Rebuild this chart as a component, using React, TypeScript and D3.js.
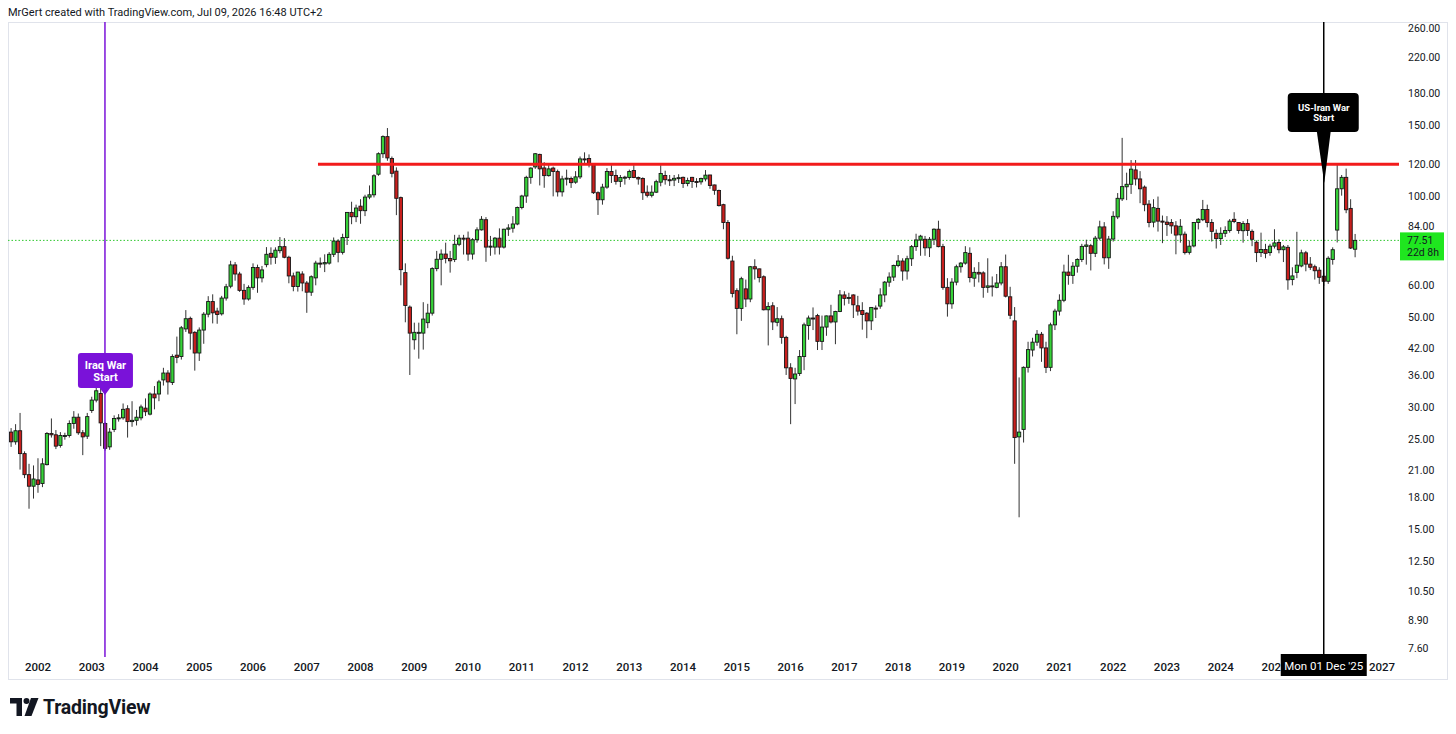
import React from 'react'
import * as d3 from 'd3'

// monthly bars: [open, high, low, close]
type Bar = [number, number, number, number]

const firstBar = { year: 2001, month: 7 }

const bars2001: Bar[] = [
    [26.0, 26.6, 23.9, 24.6], [24.6, 27.2, 24.2, 26.2], [26.2, 29.0, 21.0, 23.0],
    [23.0, 23.3, 20.0, 20.4], [20.4, 21.7, 16.8, 19.1], [19.1, 21.5, 17.8, 19.9],
]
const bars2002: Bar[] = [
    [19.8, 22.4, 18.4, 19.3], [19.4, 22.4, 19.0, 21.7], [21.6, 26.0, 21.5, 25.8],
    [25.8, 28.1, 25.2, 25.6], [25.6, 26.3, 23.6, 24.0], [24.1, 26.0, 23.8, 25.5],
    [25.4, 25.9, 24.9, 25.5], [25.5, 27.8, 25.2, 27.3], [27.3, 29.3, 26.5, 28.3],
    [28.3, 28.9, 25.6, 25.9], [25.9, 26.3, 22.8, 25.3], [25.4, 29.0, 25.0, 28.4],
]
const bars2003: Bar[] = [
    [29.4, 31.8, 29.0, 31.2], [31.2, 33.8, 30.8, 32.9], [32.4, 33.5, 24.0, 27.4],
    [27.3, 27.5, 23.4, 23.7], [23.9, 26.6, 23.5, 26.0], [26.4, 28.6, 26.0, 28.1],
    [28.1, 28.8, 27.6, 28.2], [28.2, 30.6, 27.9, 29.6], [29.7, 30.3, 25.2, 27.6],
    [27.6, 31.0, 26.8, 27.8], [27.8, 29.5, 27.0, 28.3], [28.2, 30.4, 27.8, 30.0],
]
const bars2004: Bar[] = [
    [29.8, 31.5, 28.5, 29.2], [28.8, 32.6, 28.6, 32.3], [32.3, 33.8, 29.6, 31.6],
    [32.3, 35.0, 31.0, 34.6], [35.0, 37.5, 33.9, 36.4], [36.4, 37.0, 32.2, 34.6],
    [34.5, 40.5, 34.0, 40.0], [40.3, 44.8, 38.5, 39.8], [40.0, 47.6, 39.3, 47.1],
    [46.8, 52.1, 46.0, 49.6], [49.7, 50.2, 41.6, 45.7], [45.9, 46.2, 36.9, 40.8],
]
const bars2005: Bar[] = [
    [40.8, 47.2, 39.0, 46.5], [46.5, 51.5, 43.0, 50.9], [50.9, 56.4, 50.0, 54.7],
    [54.7, 57.0, 48.3, 51.3], [51.8, 52.8, 48.2, 50.8], [51.0, 56.5, 50.5, 55.8],
    [55.8, 60.5, 55.0, 59.5], [59.7, 69.0, 59.0, 67.4], [67.4, 68.5, 61.6, 64.0],
    [64.0, 64.8, 57.8, 58.3], [58.3, 60.5, 53.7, 55.5], [55.5, 60.0, 55.0, 59.3],
]
const bars2006: Bar[] = [
    [59.3, 68.0, 58.5, 66.4], [66.4, 67.5, 57.5, 62.6], [62.6, 67.0, 61.0, 65.5],
    [67.5, 74.6, 66.5, 71.6], [72.0, 74.5, 67.5, 70.4], [70.4, 74.5, 67.8, 73.3],
    [73.1, 79.0, 72.0, 74.8], [74.8, 78.5, 70.0, 70.4], [70.4, 71.0, 60.7, 63.3],
    [63.3, 64.5, 58.0, 59.6], [59.6, 64.8, 57.9, 64.7], [64.0, 65.0, 58.0, 60.8],
]
const bars2007: Bar[] = [
    [60.8, 61.5, 51.3, 57.7], [57.7, 63.5, 56.5, 63.0], [62.6, 69.0, 60.0, 68.1],
    [68.1, 70.3, 66.3, 67.8], [67.8, 71.6, 64.7, 68.3], [68.1, 72.5, 67.5, 71.6],
    [71.6, 78.8, 70.5, 77.2], [77.2, 78.0, 68.4, 72.4], [72.4, 80.5, 71.5, 78.8],
    [78.8, 91.0, 75.5, 90.9], [90.9, 96.6, 85.0, 88.7], [88.7, 95.0, 86.0, 93.2],
]
const bars2008: Bar[] = [
    [94.2, 98.0, 85.2, 91.8], [91.8, 100.5, 89.0, 99.2], [99.2, 106.0, 98.0, 100.5],
    [100.5, 113.0, 99.0, 112.0], [113.0, 128.0, 112.0, 127.0], [127.0, 141.0, 124.0, 140.0],
    [140.0, 147.0, 122.0, 124.0], [123.6, 125.0, 111.0, 113.6], [115.0, 117.5, 89.5, 98.5],
    [98.9, 99.5, 60.0, 65.6], [64.5, 68.0, 48.6, 53.5], [53.0, 53.5, 36.0, 45.7],
]
const bars2009: Bar[] = [
    [44.0, 48.5, 41.6, 45.9], [45.7, 48.5, 39.5, 45.9], [45.7, 54.5, 41.6, 49.5],
    [48.5, 54.0, 47.0, 51.2], [51.2, 66.5, 50.5, 66.0], [66.0, 73.0, 65.0, 69.6],
    [69.6, 73.6, 60.0, 71.7], [71.7, 76.5, 68.0, 69.9], [69.9, 73.0, 64.5, 69.0],
    [69.5, 80.0, 68.5, 75.8], [75.8, 80.0, 75.0, 78.5], [78.5, 80.0, 71.5, 78.2],
]
const bars2010: Bar[] = [
    [78.5, 81.5, 69.0, 71.7], [71.7, 78.5, 69.5, 77.8], [77.8, 83.5, 76.5, 82.3],
    [82.3, 89.0, 82.0, 87.4], [87.2, 88.5, 68.6, 74.6], [74.6, 79.5, 71.0, 75.0],
    [74.6, 79.0, 71.5, 78.5], [78.5, 83.0, 71.5, 74.6], [74.6, 82.8, 74.0, 82.6],
    [82.6, 85.0, 79.5, 83.2], [83.1, 89.0, 81.0, 85.1], [85.1, 94.0, 84.5, 93.5],
]
const bars2011: Bar[] = [
    [93.5, 100.5, 92.5, 99.8], [99.8, 112.0, 96.0, 111.0], [111.0, 117.5, 107.0, 117.0],
    [117.8, 127.5, 116.5, 127.0], [126.5, 127.0, 106.0, 116.5], [117.1, 121.0, 104.6, 112.1],
    [112.1, 119.0, 111.5, 116.5], [117.0, 118.0, 99.6, 114.8], [114.7, 116.0, 99.5, 102.2],
    [102.2, 112.0, 99.5, 110.0], [110.0, 116.0, 106.0, 110.5], [110.3, 111.5, 104.5, 107.7],
]
const bars2012: Bar[] = [
    [108.0, 115.0, 107.0, 111.3], [111.3, 125.0, 110.0, 123.3], [123.3, 128.0, 120.5, 122.9],
    [123.6, 126.5, 117.5, 119.6], [119.6, 120.0, 101.0, 101.7], [101.7, 102.5, 89.6, 97.7],
    [97.7, 107.0, 95.0, 105.0], [105.0, 117.0, 104.0, 114.8], [114.8, 119.0, 107.5, 112.2],
    [112.2, 116.0, 106.5, 108.5], [108.5, 112.5, 105.0, 110.9], [111.0, 112.0, 106.5, 111.1],
]
const bars2013: Bar[] = [
    [110.9, 116.0, 109.5, 114.8], [115.4, 119.0, 110.5, 110.9], [110.9, 111.5, 106.5, 110.0],
    [110.3, 111.0, 97.6, 101.7], [102.0, 106.0, 99.0, 100.2], [100.2, 106.0, 99.0, 102.0],
    [102.0, 109.5, 101.5, 108.3], [108.0, 119.0, 105.5, 113.5], [112.2, 115.3, 106.5, 109.5],
    [109.5, 112.5, 105.7, 109.3], [109.3, 112.5, 105.6, 110.4], [110.4, 113.0, 107.5, 110.8],
]
const bars2014: Bar[] = [
    [111.0, 111.5, 104.5, 107.2], [107.2, 110.8, 105.5, 109.0], [111.0, 111.3, 104.5, 108.4],
    [108.4, 110.5, 104.8, 108.2], [108.2, 110.8, 106.5, 110.3], [110.0, 115.7, 108.5, 112.4],
    [112.5, 112.6, 104.0, 106.0], [106.3, 106.5, 100.5, 103.1], [103.0, 103.5, 94.0, 94.5],
    [95.0, 95.5, 82.6, 85.8], [85.8, 87.0, 69.5, 70.0], [68.9, 71.0, 56.0, 57.3],
]
const bars2015: Bar[] = [
    [58.2, 59.0, 45.4, 52.6], [52.6, 63.0, 49.0, 62.3], [58.8, 62.0, 53.0, 55.5],
    [55.5, 67.0, 54.5, 66.7], [66.7, 69.6, 62.0, 65.9], [65.9, 66.0, 61.0, 62.7],
    [63.0, 63.5, 52.0, 52.2], [52.2, 54.5, 42.6, 53.2], [53.4, 54.5, 46.5, 48.7],
    [48.6, 53.0, 47.5, 49.6], [49.6, 50.5, 43.0, 44.6], [44.6, 45.0, 36.0, 37.5],
]
const bars2016: Bar[] = [
    [37.5, 38.5, 27.2, 35.3], [35.2, 37.5, 30.5, 36.2], [36.3, 41.5, 35.8, 40.0],
    [40.0, 48.5, 37.0, 47.9], [47.7, 50.5, 44.0, 49.8], [49.8, 52.9, 46.5, 49.7],
    [50.5, 51.0, 41.5, 43.6], [43.6, 50.5, 41.5, 47.3], [47.3, 50.5, 45.0, 50.4],
    [50.4, 53.7, 48.3, 48.7], [48.7, 51.9, 42.9, 51.7], [51.7, 58.4, 51.5, 56.8],
]
const bars2017: Bar[] = [
    [56.8, 58.0, 53.5, 55.7], [55.7, 57.5, 54.0, 56.0], [56.8, 57.0, 49.8, 53.7],
    [53.4, 56.5, 50.5, 51.8], [52.0, 54.5, 46.6, 50.8], [51.2, 51.5, 44.4, 49.0],
    [49.0, 53.0, 46.5, 52.9], [52.7, 53.5, 49.8, 52.4], [53.3, 59.0, 52.5, 56.8],
    [56.8, 61.5, 54.5, 61.1], [61.1, 64.6, 59.5, 62.9], [62.9, 67.5, 61.5, 67.2],
]
const bars2018: Bar[] = [
    [67.2, 71.3, 66.5, 68.9], [68.9, 70.0, 61.6, 65.1], [65.1, 71.0, 62.0, 69.8],
    [69.8, 75.5, 67.0, 74.8], [74.8, 80.5, 73.0, 77.7], [77.7, 80.0, 71.0, 79.4],
    [78.0, 79.5, 71.0, 74.3], [74.3, 79.0, 70.5, 78.0], [78.0, 83.0, 75.5, 82.6],
    [82.6, 86.7, 74.5, 74.8], [74.8, 76.0, 58.5, 59.3], [59.3, 62.5, 50.2, 54.0],
]
const bars2019: Bar[] = [
    [54.0, 62.5, 52.5, 61.1], [61.1, 67.5, 60.0, 66.7], [66.7, 68.5, 64.5, 68.1],
    [68.1, 75.0, 67.5, 72.3], [72.0, 74.5, 61.0, 62.7], [62.5, 66.5, 59.5, 64.6],
    [64.6, 68.5, 61.0, 64.0], [64.4, 65.0, 55.9, 59.3], [59.3, 70.0, 57.5, 59.8],
    [59.8, 63.1, 56.3, 59.6], [59.3, 64.0, 59.0, 60.8], [60.8, 68.5, 60.0, 66.7],
]
const bars2020: Bar[] = [
    [66.7, 71.5, 56.0, 56.4], [56.2, 59.5, 49.5, 50.6], [49.0, 53.0, 21.7, 25.2],
    [25.3, 35.5, 16.0, 26.0], [26.4, 37.8, 24.5, 37.6], [37.6, 43.5, 36.5, 41.6],
    [41.5, 44.5, 40.0, 43.4], [43.4, 46.5, 42.5, 45.4], [45.4, 46.0, 38.8, 42.0],
    [42.0, 43.5, 36.4, 37.6], [37.6, 48.5, 36.8, 47.9], [47.9, 52.5, 46.5, 51.8],
]
const bars2021: Bar[] = [
    [51.8, 57.0, 50.5, 55.1], [55.1, 67.5, 54.5, 64.7], [64.7, 71.4, 60.2, 63.5],
    [63.5, 68.5, 60.5, 66.9], [66.9, 70.0, 64.5, 69.5], [69.5, 76.0, 68.5, 74.9],
    [74.9, 77.8, 67.5, 75.5], [75.2, 76.0, 65.3, 72.0], [72.0, 79.5, 70.5, 78.5],
    [78.5, 86.7, 77.5, 83.7], [83.7, 86.0, 67.6, 70.2], [70.2, 79.5, 65.9, 78.1],
]
const bars2022: Bar[] = [
    [78.1, 91.5, 77.0, 88.9], [88.6, 101.5, 87.5, 98.5], [98.2, 139.0, 97.0, 105.3],
    [105.2, 114.0, 97.5, 106.7], [106.7, 122.5, 101.0, 116.3], [115.8, 122.5, 106.0, 110.0],
    [110.0, 115.0, 95.8, 104.0], [105.0, 106.0, 91.5, 95.0], [95.3, 97.5, 83.5, 85.8],
    [86.0, 98.0, 83.5, 93.4], [93.0, 99.5, 81.5, 86.5], [86.5, 89.3, 76.3, 86.0],
]
const bars2023: Bar[] = [
    [86.0, 89.0, 79.5, 84.9], [85.8, 87.5, 80.5, 84.2], [84.2, 86.5, 71.6, 79.9],
    [80.0, 87.5, 76.5, 84.0], [80.3, 81.5, 71.5, 72.3], [72.4, 77.5, 71.5, 75.0],
    [75.1, 86.0, 74.5, 85.8], [85.8, 88.0, 82.5, 87.4], [87.2, 97.6, 86.5, 92.4],
    [92.4, 95.0, 83.5, 85.8], [85.8, 87.5, 77.0, 81.6], [80.7, 82.5, 74.0, 78.3],
]
const bars2024: Bar[] = [
    [78.3, 83.5, 75.5, 80.7], [80.7, 84.0, 79.0, 82.0], [82.0, 87.5, 81.0, 86.5],
    [87.4, 91.0, 85.5, 86.3], [85.8, 86.0, 80.5, 82.0], [81.9, 86.5, 76.5, 85.3],
    [85.3, 87.5, 79.5, 82.0], [81.6, 82.5, 75.0, 78.0], [76.7, 77.5, 68.5, 72.3],
    [72.3, 81.0, 70.5, 73.6], [73.6, 76.0, 70.0, 72.0], [72.3, 76.0, 71.0, 75.0],
]
const bars2025: Bar[] = [
    [75.0, 82.6, 74.0, 76.4], [76.6, 78.0, 72.0, 73.5], [73.5, 75.5, 68.5, 74.7],
    [74.5, 75.5, 58.5, 61.9], [62.0, 66.5, 60.0, 63.3], [64.6, 81.4, 62.5, 67.3],
    [67.0, 73.5, 66.5, 72.2], [72.2, 73.0, 65.0, 67.7], [67.7, 70.5, 65.5, 66.5],
    [66.7, 67.5, 62.0, 65.2], [65.4, 66.5, 60.5, 62.8], [63.2, 64.5, 59.8, 61.4],
]
const bars2026: Bar[] = [
    [61.4, 70.8, 60.5, 70.0], [69.5, 74.5, 67.5, 73.5], [82.2, 120.0, 76.6, 104.0],
    [104.0, 112.5, 100.0, 111.0], [111.0, 116.7, 90.5, 92.3], [93.0, 98.0, 73.8, 74.2],
    [73.7, 80.4, 70.4, 77.51],
]

const bars: Bar[] = [
    ...bars2001, ...bars2002, ...bars2003, ...bars2004, ...bars2005, ...bars2006,
    ...bars2007, ...bars2008, ...bars2009, ...bars2010, ...bars2011, ...bars2012,
    ...bars2013, ...bars2014, ...bars2015, ...bars2016, ...bars2017, ...bars2018,
    ...bars2019, ...bars2020, ...bars2021, ...bars2022, ...bars2023, ...bars2024,
    ...bars2025, ...bars2026,
]

const priceTicks = [260, 220, 180, 150, 120, 100, 84, 60, 50, 42, 36, 30, 25, 21, 18, 15, 12.5, 10.5, 8.9, 7.6]
const yearTicks = [2002, 2003, 2004, 2005, 2006, 2007, 2008, 2009, 2010, 2011, 2012, 2013, 2014,
    2015, 2016, 2017, 2018, 2019, 2020, 2021, 2022, 2023, 2024, 2025, 2027]

const resistanceLevel = 119.6
const resistanceFrom = { year: 2007, month: 3.5 }
const lastPrice = 77.51
const countdown = '22d 8h'
const iraqWar = { year: 2003, month: 3.95, label: ['Iraq War', 'Start'] }
const iranWar = { year: 2025, month: 12, label: ['US-Iran War', 'Start'], date: "Mon 01 Dec '25" }

const monthIndex = (year: number, month: number) => (year - firstBar.year) * 12 + (month - firstBar.month)

const W = 1456
const H = 734
const plot = { left: 8, right: 1400, top: 22, bottom: 657 }
const green = '#36d238'
const red = '#c81f1d'
const font = 'Roboto, "Open Sans", sans-serif'
const ink = '#131722'

const App = () => {
    const x = d3.scaleLinear().domain([-0.692, 310.02]).range([plot.left, plot.right])
    const y = d3.scaleLog().domain([7.218, 269.0]).range([plot.bottom, plot.top])
    const step = x(1) - x(0)
    const bw = step * 0.72

    const iraqX = x(monthIndex(iraqWar.year, iraqWar.month))
    const iranX = x(monthIndex(iranWar.year, iranWar.month))
    const resY = y(resistanceLevel)
    const lastY = y(lastPrice)
    const dateBoxLeft = iranX - 43

    return (
        <svg width={W} height={H} style={{ position: 'absolute', left: 0, top: 0, background: '#fff' }}
             fontFamily={font}>
            <defs>
                <clipPath id="plotClip">
                    <rect x={plot.left} y={plot.top} width={plot.right - plot.left} height={plot.bottom - plot.top} />
                </clipPath>
                <clipPath id="timeClip">
                    <rect x={plot.left} y={plot.bottom} width={dateBoxLeft - plot.left} height={22} />
                    <rect x={dateBoxLeft + 86} y={plot.bottom} width={plot.right - dateBoxLeft - 86} height={22} />
                </clipPath>
            </defs>
            <rect x={0} y={0} width={W} height={H} fill="#fff" />
            <text x={8} y={16} fontSize={11} fill={ink}>
                MrGert created with TradingView.com, Jul 09, 2026 16:48 UTC+2
            </text>
            {/* frame */}
            <rect x={8.5} y={22.5} width={1439} height={657} fill="none" stroke="#e0e3eb" />

            <g clipPath="url(#plotClip)">
                <line x1={plot.left} x2={plot.right} y1={lastY} y2={lastY} stroke="#2fc82f"
                      strokeWidth={1} strokeDasharray="1.5 2" />
                {bars.map((b, i) => {
                    const [o, h, l, c] = b
                    const cx = x(i)
                    const up = c >= o
                    const top = y(Math.max(o, c))
                    const bot = y(Math.min(o, c))
                    return (
                        <g key={i}>
                            <line x1={cx} x2={cx} y1={y(h)} y2={y(l)} stroke="#333" strokeWidth={1} />
                            <rect x={cx - bw / 2} y={top} width={bw} height={Math.max(bot - top, 1)}
                                  fill={up ? green : red} stroke="#161616" strokeWidth={0.9} />
                        </g>
                    )
                })}
                <line x1={x(monthIndex(resistanceFrom.year, resistanceFrom.month))} x2={plot.right - 1}
                      y1={resY} y2={resY} stroke="#f21b1b" strokeWidth={3} />
                <line x1={iraqX} x2={iraqX} y1={plot.top} y2={plot.bottom} stroke="#7a12d9" strokeWidth={1.5} />
                <line x1={iranX} x2={iranX} y1={plot.top} y2={plot.bottom} stroke="#000" strokeWidth={1.5} />
            </g>

            {/* Iraq war label */}
            <g>
                <rect x={iraqX - 27} y={353} width={55} height={35} rx={3} fill="#7a12d9" />
                <path d={`M${iraqX - 6},387 L${iraqX + 6},387 L${iraqX},395 Z`} fill="#7a12d9" />
                {iraqWar.label.map((t, i) => (
                    <text key={t} x={iraqX + 0.5} y={368.5 + i * 12} fontSize={11} fontWeight={700}
                          fill="#fff" textAnchor="middle">{t}</text>
                ))}
            </g>

            {/* US-Iran war label */}
            <g>
                <rect x={iranX - 36} y={93} width={71} height={39} rx={4} fill="#000" />
                <path d={`M${iranX - 7},131 L${iranX + 7},131 L${iranX + 0.5},183 Z`} fill="#000" />
                {iranWar.label.map((t, i) => (
                    <text key={t} x={iranX} y={110.5 + i * 10} fontSize={9.5} fontWeight={700}
                          fill="#fff" textAnchor="middle">{t}</text>
                ))}
            </g>

            {/* price axis */}
            {priceTicks.map(p => (
                <text key={p} x={1408} y={y(p) + 4} fontSize={10.5} fill={ink}>{p.toFixed(2)}</text>
            ))}
            <rect x={1400} y={lastY - 8} width={44} height={28} fill="#1fe61f" />
            <text x={1407} y={lastY + 3.5} fontSize={10.5} fill={ink}>{lastPrice.toFixed(2)}</text>
            <text x={1407} y={lastY + 16} fontSize={10.5} fill={ink}>{countdown}</text>

            {/* time axis, the crosshair date box hides what sits under it */}
            <g clipPath="url(#timeClip)">
                {yearTicks.map(yr => (
                    <text key={yr} x={x(monthIndex(yr, 1))} y={671} fontSize={11.5} fontWeight={500}
                          fill={ink} textAnchor="middle">{yr}</text>
                ))}
            </g>
            <rect x={dateBoxLeft} y={654} width={86} height={22} fill="#000" />
            <text x={iranX} y={669.5} fontSize={11.5} fill="#fff" textAnchor="middle">{iranWar.date}</text>

            {/* TradingView logo */}
            <g fill={ink}>
                <path d="M10,698 H22 V716 H16.5 V703.5 H10 Z" />
                <circle cx={26.5} cy={701} r={3} />
                <path d="M31,698 H38.5 L31.5,716 H24.5 Z" />
                <text x={43} y={714} fontSize={19.5} fontWeight={700} letterSpacing={-0.2}>TradingView</text>
            </g>
        </svg>
    )
}

export default App
